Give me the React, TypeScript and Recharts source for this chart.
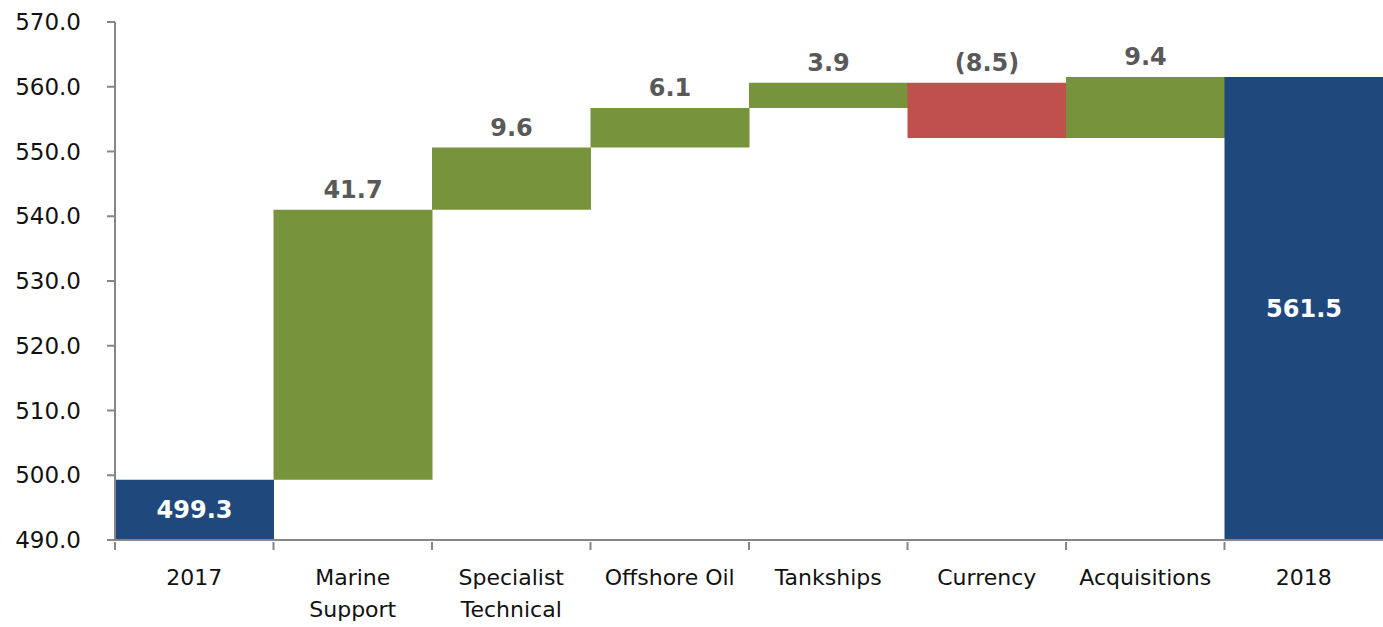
import React from "react";
import { BarChart, Bar, XAxis, YAxis, Cell, LabelList } from "recharts";

const categories = [
  "2017",
  "Marine\nSupport",
  "Specialist\nTechnical",
  "Offshore Oil",
  "Tankships",
  "Currency",
  "Acquisitions",
  "2018",
];
const values = [499.3, 41.7, 9.6, 6.1, 3.9, -8.5, 9.4, 561.5];
const isTotal = [true, false, false, false, false, false, false, true];
const yTicks = [490, 500, 510, 520, 530, 540, 550, 560, 570];

const AXIS_MIN = 490;
const AXIS_MAX = 570;

const CHART_W = 1383;
const CHART_H = 627;
const YAXIS_W = 115;
const BAND = (CHART_W - YAXIS_W) / categories.length;

const BLUE = "#1F497D";
const GREEN = "#77933C";
const RED = "#C0504D";
const FONT = "'DejaVu Sans', Verdana, sans-serif";

let running = 0;
const data = categories.map((name, i) => {
  const v = values[i];
  let range: [number, number];
  let color: string;
  if (isTotal[i]) {
    range = [AXIS_MIN, v];
    running = v;
    color = BLUE;
  } else {
    const next = running + v;
    range = [Math.min(running, next), Math.max(running, next)];
    running = next;
    color = v < 0 ? RED : GREEN;
  }
  return { name, range, value: v, total: isTotal[i], color };
});

const fmtLabel = (v: number) =>
  v < 0 ? `(${Math.abs(v).toFixed(1)})` : v.toFixed(1);

const BarLabel = (props: any) => {
  const { x, y, width, height, index } = props;
  const d = data[index];
  if (d.total) {
    return (
      <text
        x={x + width / 2}
        y={y + height / 2}
        textAnchor="middle"
        dominantBaseline="central"
        fill="#fff"
        fontWeight="bold"
        fontSize={24}
        fontFamily={FONT}
      >
        {fmtLabel(d.value)}
      </text>
    );
  }
  return (
    <text
      x={x + width / 2}
      y={y - 12}
      textAnchor="middle"
      fill="#595959"
      fontWeight="bold"
      fontSize={24}
      fontFamily={FONT}
    >
      {fmtLabel(d.value)}
    </text>
  );
};

const CategoryTick = (props: any) => {
  const { x, y, payload } = props;
  const lines = String(payload.value).split("\n");
  return (
    <g>
      <line x1={x - BAND / 2} x2={x - BAND / 2} y1={y} y2={y + 8} stroke="#868686" strokeWidth={2} />
      {lines.map((l, i) => (
        <text
          key={i}
          x={x}
          y={y + 43 + i * 32}
          textAnchor="middle"
          fill="#111"
          fontSize={22}
          fontFamily={FONT}
        >
          {l}
        </text>
      ))}
    </g>
  );
};

export default function App() {
  return (
    <div style={{ position: "fixed", left: 0, top: 0, background: "#fff" }}>
      <BarChart
        width={CHART_W}
        height={CHART_H}
        data={data}
        barCategoryGap={0}
        margin={{ top: 22, right: 0, bottom: 0, left: 0 }}
      >
        <XAxis
          dataKey="name"
          interval={0}
          height={87}
          tickSize={0}
          tick={<CategoryTick />}
          axisLine={{ stroke: "#868686", strokeWidth: 2 }}
          tickLine={false}
        />
        <YAxis
          width={YAXIS_W}
          domain={[AXIS_MIN, AXIS_MAX]}
          ticks={yTicks}
          allowDataOverflow
          tickFormatter={(v: number) => v.toFixed(1)}
          tickSize={8}
          tickMargin={26}
          tick={{ fill: "#111", fontSize: 23, fontFamily: FONT }}
          axisLine={{ stroke: "#868686", strokeWidth: 2 }}
          tickLine={{ stroke: "#868686", strokeWidth: 2 }}
        />
        <Bar dataKey="range" isAnimationActive={false}>
          {data.map((d, i) => (
            <Cell key={i} fill={d.color} />
          ))}
          <LabelList dataKey="value" content={<BarLabel />} />
        </Bar>
      </BarChart>
    </div>
  );
}
